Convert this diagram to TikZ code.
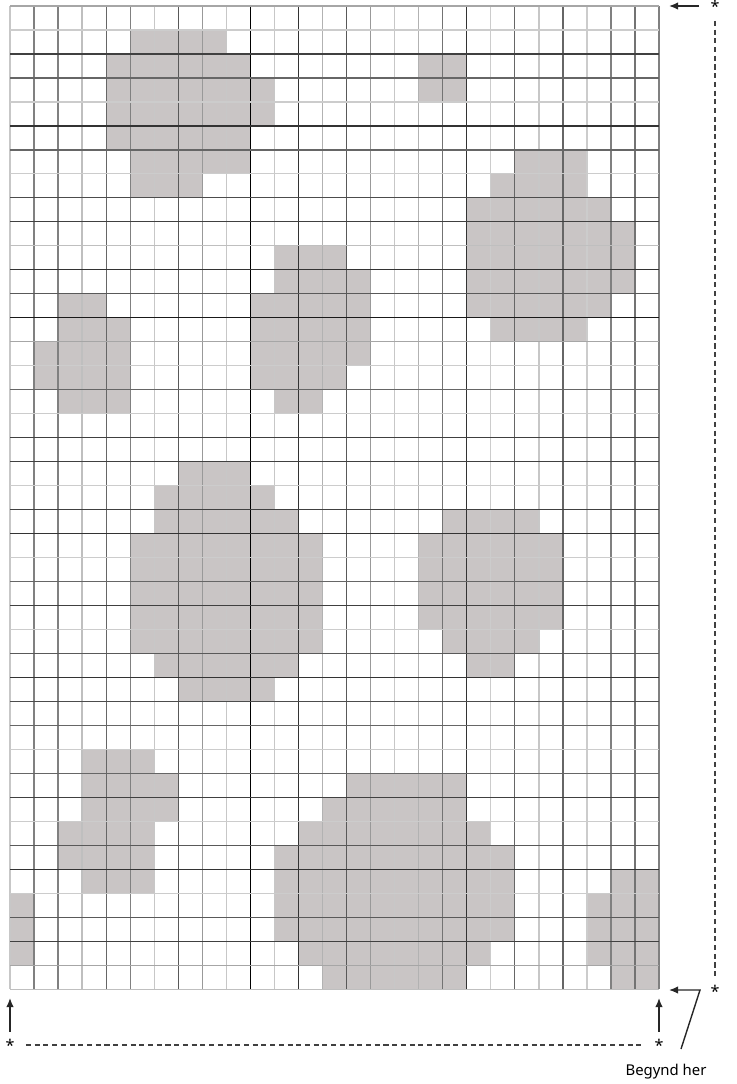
\documentclass[tikz,border=0pt]{standalone}
\usepackage{fontspec}
\setmainfont{Noto Sans}
\usetikzlibrary{arrows.meta}
\definecolor{blobgray}{HTML}{C9C5C5}
\tikzset{
    blob/.style={fill=blobgray},
    gridline/.style={line width=0.9pt},
    starmark/.style={inner sep=0pt, font=\fontsize{11.5pt}{12pt}\selectfont},
    lead/.style={line width=1pt, black!85, -{Latex[length=6.5pt,width=5.4pt]}},
    dashlead/.style={line width=0.8pt, black!75, dash pattern=on 3.6pt off 2.6pt}
}

\begin{document}
\begin{tikzpicture}[x=0.025cm, y=-0.025cm]
            \useasboundingbox (0,0) rectangle (736,1084);

            % Shaded cells, one row at a time: row/first column/last column
            \foreach \r/\a/\b in {
                1/5/8, 2/4/9, 3/4/10, 4/4/10, 5/4/9, 6/5/9, 7/5/7,
                2/17/18, 3/17/18,
                6/21/23, 7/20/23, 8/19/24, 9/19/25, 10/19/25, 11/19/25, 12/19/24, 13/20/23,
                10/11/13, 11/11/14, 12/10/14, 13/10/14, 14/10/14, 15/10/13, 16/11/12,
                12/2/3, 13/2/4, 14/1/4, 15/1/4, 16/2/4,
                19/7/9, 20/6/10, 21/6/11, 22/5/12, 23/5/12, 24/5/12, 25/5/12, 26/5/12, 27/6/11, 28/7/10,
                21/18/21, 22/17/22, 23/17/22, 24/17/22, 25/17/22, 26/18/21, 27/19/20,
                31/3/5, 32/3/6, 33/3/6, 34/2/5, 35/2/5, 36/3/5,
                32/14/18, 33/13/18, 34/12/19, 35/11/20, 36/11/20, 37/11/20, 38/11/20, 39/12/19, 40/13/18,
                37/0/0, 38/0/0, 39/0/0,
                36/25/26, 37/24/26, 38/24/26, 39/24/26, 40/25/26} {
                \fill[blob] (10+\a*24.04, 6+\r*23.98) rectangle (10+\b*24.04+24.04, 6+\r*23.98+23.98);
            }

            % Grid lines: number/darkness
            \foreach \c/\g in {0/22,1/50,2/50,3/25,4/60,5/50,6/22,7/65,8/40,9/22,10/100,11/22,12/80,13/30,
                14/65,15/40,16/22,17/30,18/55,19/80,20/20,21/60,22/22,23/60,24/20,25/50,26/55,27/50} {
                \draw[gridline, black!\g] (10+\c*24.04, 6) -- (10+\c*24.04, 989.2);
            }
            \foreach \r/\g in {0/35,1/20,2/75,3/60,4/20,5/80,6/60,7/20,8/70,9/75,10/25,11/80,12/65,13/90,14/35,
                15/20,16/60,17/20,18/75,19/75,20/20,21/75,22/80,23/20,24/60,25/75,26/20,27/65,28/80,29/70,
                30/60,31/20,32/60,33/75,34/20,35/65,36/80,37/20,38/65,39/75,40/35,41/25} {
                \draw[gridline, black!\g] (10, 6+\r*23.98) -- (659, 6+\r*23.98);
            }

            % Stars and the text
            \node[starmark] (starTop) at (715, 6) {*};
            \node[starmark] (starRight) at (715, 991) {*};
            \node[starmark] (starLeft) at (10, 1045) {*};
            \node[starmark] (starBottom) at (659, 1045) {*};
            \node (startText) at (666, 1072) {\fontsize{10.6pt}{12pt}\selectfont Begynd her};

            % Arrow ends and the bend
            \coordinate (tipTop) at (669, 6);
            \coordinate (tipCorner) at (669, 990);
            \coordinate (tipLeft) at (10, 998);
            \coordinate (tipBottom) at (659, 998);
            \coordinate (bend) at (700, 990);
            \coordinate (tailBend) at (681, 1049);

            % Arrows
            \draw[lead, shorten <=8pt] (starTop) -- (tipTop);
            \draw[lead, shorten <=5pt] (starLeft) -- (tipLeft);
            \draw[lead, shorten <=5pt] (starBottom) -- (tipBottom);
            \draw[lead] (tailBend) -- (bend) -- (tipCorner);

            % Dashed lines
            \draw[dashlead, shorten <=6pt, shorten >=6pt] (starTop) -- (starRight);
            \draw[dashlead, shorten <=8pt, shorten >=8pt] (starLeft) -- (starBottom);
        \end{tikzpicture}
\end{document}
